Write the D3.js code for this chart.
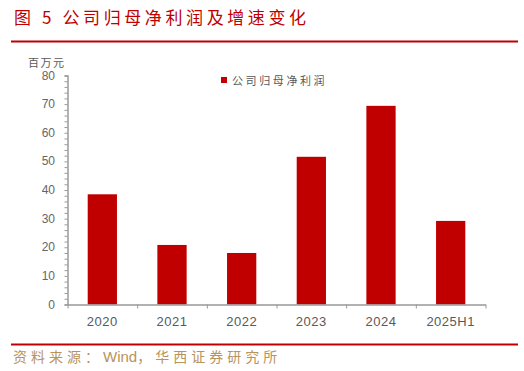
<!DOCTYPE html>
<html>
<head>
<meta charset="utf-8">
<script src="https://cdn.jsdelivr.net/npm/d3@7"></script>
<style>
  body { margin: 0; background: #fff; }
  svg { display: block; font-family: "Liberation Sans", Arial, sans-serif; }
</style>
</head>
<body>
<div id="mount"></div>
<script>
'use strict';

// data
const years = ['2020', '2021', '2022', '2023', '2024', '2025H1'];
const profit = [38.5, 20.8, 18.0, 51.6, 69.4, 29.2];
const yTicks = [0, 10, 20, 30, 40, 50, 60, 70, 80];

const W = 524, H = 371;
const cjk = '"Noto Sans CJK SC", sans-serif';

const svg = d3.select('#mount').append('svg')
    .attr('width', W)
    .attr('height', H);

// title + red rules
svg.append('text')
    .attr('x', 14).attr('y', 24)
    .attr('fill', '#c00000')
    .style('font-family', cjk)
    .style('font-size', '17px')
    .style('letter-spacing', '3.6px')
    .text('图 5 公司归母净利润及增速变化');

svg.append('rect').attr('x', 11).attr('y', 40.5).attr('width', 507).attr('height', 2).attr('fill', '#c00000');
svg.append('rect').attr('x', 11).attr('y', 343.5).attr('width', 507).attr('height', 2).attr('fill', '#c00000');

// source line: CJK is spaced wide, the Latin word is not
const src = svg.append('text')
    .attr('x', 13).attr('y', 362)
    .attr('fill', '#b8935a')
    .style('font-family', cjk)
    .style('font-size', '14px');
src.append('tspan').style('letter-spacing', '4px').text('资料来源：');
src.append('tspan').style('font-family', '"Liberation Sans", Arial, sans-serif').style('font-size', '15px').text('Wind');
src.append('tspan').style('letter-spacing', '4px').text('，华西证券研究所');

// plot area
const x = d3.scaleBand().domain(years).range([67.5, 485.5]).paddingInner(0.58).paddingOuter(0.29);
const y = d3.scaleLinear().domain([0, 80]).range([304.5, 75.5]);

const g = svg.append('g');

g.selectAll('rect.bar')
    .data(profit)
  .enter().append('rect')
    .attr('class', 'bar')
    .attr('x', (d, i) => x(years[i]))
    .attr('y', d => y(d))
    .attr('width', x.bandwidth())
    .attr('height', d => y(0) - y(d))
    .attr('fill', '#c00000');

// y axis: minor ticks every 2 units
const yAxis = g.append('g')
    .attr('transform', 'translate(67.5,0)')
    .call(d3.axisLeft(y).tickValues(d3.range(0, 81, 2)).tickSize(3).tickFormat(''));
yAxis.selectAll('path, line').attr('stroke', '#999');
yAxis.select('.domain').attr('stroke-width', 1.5);

g.selectAll('text.ylab')
    .data(yTicks)
  .enter().append('text')
    .attr('class', 'ylab')
    .attr('x', 55)
    .attr('y', d => y(d) + 4)
    .attr('text-anchor', 'end')
    .attr('fill', '#666')
    .style('font-size', '12px')
    .text(d => d);

// x axis with ticks on category boundaries
const xb = d3.scalePoint().domain(d3.range(years.length + 1)).range([67.5, 485.5]);
const xAxis = g.append('g')
    .attr('transform', 'translate(0,304.5)')
    .call(d3.axisBottom(xb).tickSize(4).tickSizeOuter(0).tickFormat(''));
xAxis.selectAll('path, line').attr('stroke', '#999');
xAxis.select('.domain').attr('stroke-width', 1.5);

g.selectAll('text.xlab')
    .data(years)
  .enter().append('text')
    .attr('class', 'xlab')
    .attr('x', d => x(d) + x.bandwidth() / 2)
    .attr('y', 326)
    .attr('text-anchor', 'middle')
    .attr('fill', '#595959')
    .style('font-size', '13px')
    .style('letter-spacing', '0.5px')
    .text(d => d);

// unit label
svg.append('text')
    .attr('x', 28).attr('y', 67)
    .attr('fill', '#595959')
    .style('font-family', cjk)
    .style('font-size', '11px')
    .style('letter-spacing', '1.5px')
    .text('百万元');

// legend
svg.append('rect').attr('x', 221).attr('y', 77).attr('width', 6).attr('height', 6).attr('fill', '#c00000');
svg.append('text')
    .attr('x', 232).attr('y', 84.5)
    .attr('fill', '#595959')
    .style('font-family', cjk)
    .style('font-size', '11px')
    .style('letter-spacing', '2.6px')
    .text('公司归母净利润');
</script>
</body>
</html>
